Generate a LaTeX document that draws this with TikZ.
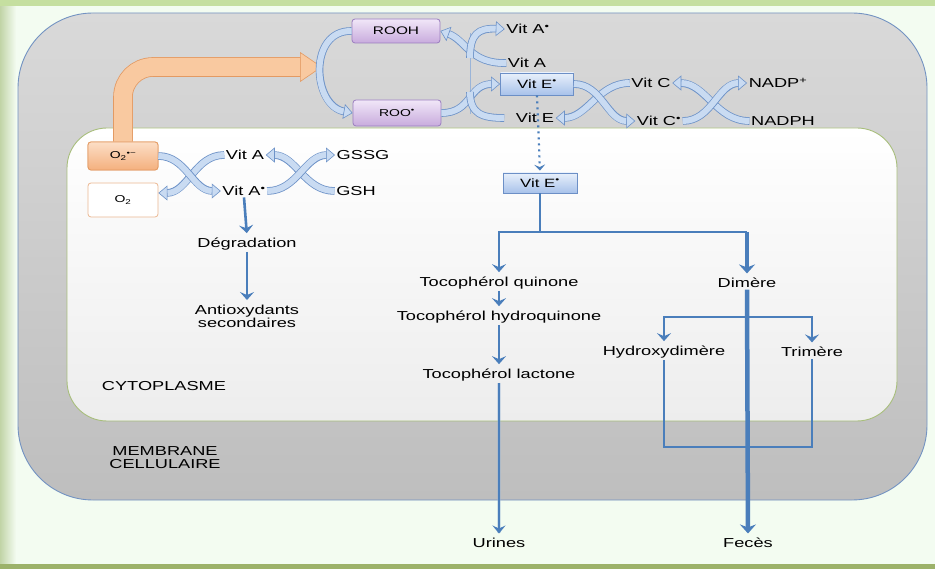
\documentclass[tikz,border=0pt]{standalone}
\usepackage{fontspec}
\setmainfont{Liberation Sans}[FakeStretch=1.4]
\usetikzlibrary{arrows.meta}
\definecolor{mint}{HTML}{F3FCF1}
\definecolor{gband}{HTML}{C5DFA0}
\definecolor{gline}{HTML}{9CB26A}
\definecolor{memtop}{HTML}{D9D9D9}
\definecolor{membot}{HTML}{BEBEBE}
\definecolor{memline}{HTML}{7393C2}
\definecolor{cytbot}{HTML}{EDEDED}
\definecolor{cytline}{HTML}{A8BE7C}
\definecolor{ribF}{HTML}{C9DBF2}
\definecolor{ribL}{HTML}{6E93C8}
\definecolor{connc}{HTML}{4A7EBB}
\definecolor{ptop}{HTML}{F1E7F8}
\definecolor{pbot}{HTML}{C8ABDD}
\definecolor{pline}{HTML}{9A7DBF}
\definecolor{btop}{HTML}{E8F0FB}
\definecolor{bbot}{HTML}{A8C2EA}
\definecolor{bline}{HTML}{6C8FC6}
\definecolor{otop}{HTML}{FCDEC6}
\definecolor{obot}{HTML}{F4B07E}
\definecolor{oline}{HTML}{E39A63}
\definecolor{oarr}{HTML}{F9C9A0}
\newcommand\rad{\textsuperscript{\textbullet}}
\tikzset{
  lbl/.style={font=\fontsize{13}{13}\selectfont, text=black, inner sep=1.5pt},
  pbox/.style={draw=pline, line width=0.8pt, top color=ptop, bottom color=pbot, rounded corners=3pt, inner sep=0pt},
  bbox/.style={draw=bline, line width=0.8pt, top color=btop, bottom color=bbot, inner sep=0pt, font=\fontsize{12}{12}\selectfont},
  obox/.style={draw=oline, line width=0.8pt, top color=otop, bottom color=obot, rounded corners=3pt, inner sep=0pt, font=\fontsize{10}{10}\selectfont},
  wbox/.style={draw=oline!70, line width=0.8pt, fill=white, rounded corners=3pt, inner sep=0pt, font=\fontsize{10}{10}\selectfont},
  rib/.style={line width=6pt, draw=ribF,
    preaction={draw=ribL, line width=7.6pt, arrows=-, shorten >=8pt},
    -{Triangle[length=9pt,width=15pt,line width=0.6pt,fill=ribF,color=ribL]}},
  ribtail/.style={line width=6pt, draw=ribF, preaction={draw=ribL, line width=7.6pt}},
  conn/.style={draw=connc, line width=2.6pt},
  conntip/.style={conn, shorten >=3pt, -{Stealth[length=8pt,width=14pt,inset=3pt]}},
  connbig/.style={draw=connc, line width=4.5pt, shorten >=3pt, -{Stealth[length=9pt,width=16pt,inset=3pt]}},
}
\begin{document}
\begin{tikzpicture}[x=1pt,y=-1pt]
\useasboundingbox (0,0) rectangle (935,569);
% frame
\fill[mint] (0,0) rectangle (935,569);
\shade[left color=gband!90!black!80, right color=mint] (0,0) rectangle (16,569);
\fill[gband] (0,0) rectangle (935,6);
\fill[gline] (0,564) rectangle (935,569);
% membrane
\draw[memline, line width=0.9pt, top color=memtop, bottom color=membot, rounded corners=75pt] (18,13) rectangle (927,500);
% cytoplasm
\draw[cytline, line width=0.9pt, top color=white, bottom color=cytbot, rounded corners=40pt] (67,128) rectangle (897,421);

% orange arrow
\node[obox, minimum width=70pt, minimum height=28pt] (o2r) at (123,156) {O\textsubscript{2}\textsuperscript{\textbullet−}};
\coordinate (oend) at (322,67);
\draw[line width=18pt, draw=oarr, rounded corners=30pt,
  preaction={draw=oline, line width=19.6pt, arrows=-, shorten >=20pt},
  -{Triangle[length=22pt,width=30pt,line width=0.6pt,fill=oarr,color=oline]}]
  (o2r.north) |- (oend);
\node[obox, minimum width=70pt, minimum height=28pt] at (123,156) {O\textsubscript{2}\textsuperscript{\textbullet−}};
\node[wbox, minimum width=70pt, minimum height=34pt] (o2) at (123,200) {O\textsubscript{2}};

% boxes
\node[pbox, minimum width=88pt, minimum height=24pt, font=\fontsize{11}{11}\selectfont] (rooh) at (396,31) {ROOH};
\node[pbox, minimum width=88pt, minimum height=26pt, font=\fontsize{10}{10}\selectfont] (roo) at (397,113) {ROO\rad};
\node[bbox, minimum width=73pt, minimum height=22pt] (e1) at (537,84) {Vit E\rad};
\node[bbox, minimum width=74pt, minimum height=20pt] (e2) at (540,183) {Vit E\rad};

% labels
\node[lbl] (vAr) at (528,29) {Vit A\rad};
\node[lbl] (vA1) at (527,63) {Vit A};
\node[lbl] (vE) at (535,118) {Vit E};
\node[lbl] (vC) at (651,83) {Vit C};
\node[lbl] (vCr) at (659,121) {Vit C\rad};
\node[lbl] (nadpp) at (778,83) {NADP\textsuperscript{+}};
\node[lbl] (nadph) at (783,121) {NADPH};
\node[lbl] (vA2) at (245,155) {Vit A};
\node[lbl] (vA2r) at (244,191) {Vit A\rad};
\node[lbl] (gssg) at (363,155) {GSSG};
\node[lbl] (gsh) at (356,191) {GSH};
\node[lbl] (deg) at (247,244) {Dégradation};
\node[lbl, align=center] (anti) at (247,316) {Antioxydants\\secondaires};
\node[lbl] (tq) at (499,283) {Tocophérol quinone};
\node[lbl] (thq) at (499,317) {Tocophérol hydroquinone};
\node[lbl] (tl) at (499,375) {Tocophérol lactone};
\node[lbl] (dim) at (747,283) {Dimère};
\node[lbl] (hd) at (664,352) {Hydroxydimère};
\node[lbl] (tr) at (812,352) {Trimère};
\node[lbl] (cyto) at (164,386) {CYTOPLASME};
\node[lbl, align=center] (memb) at (165,458) {MEMBRANE\\CELLULAIRE};
\node[lbl] (ur) at (499,543) {Urines};
\node[lbl] (fe) at (748,543) {Fecès};

% ribbon arrows: peroxidation cycle
\coordinate (vt) at (470,33);
\coordinate (vb) at (470,114);
\coordinate (cA) at (470,58);
\coordinate (cE) at (470,92);
\draw[ribL!70, line width=1pt] (vt) -- (vb);
\draw[rib] (rooh.west) .. controls (308,30) and (312,106) .. (roo.west);
\draw[rib] (vA1.west) .. controls (470,64) and (466,40) .. (rooh.east);
\draw[rib] (cA) .. controls (470,34) and (478,28) .. (vAr.west);
\draw[rib] (roo.east) .. controls (472,113) and (468,84) .. (e1.west);
\draw[ribtail] (cE) .. controls (470,114) and (482,118) .. ([xshift=-10pt]vE.west);

% Vit E / Vit C crossing
\draw[rib] (vC.west) to[out=180,in=0] (vE.east);
\draw[rib] (e1.east) to[out=0,in=180] (vCr.west);
% Vit C / NADPH crossing
\draw[rib] (nadph.west) to[out=180,in=0] (vC.east);
\draw[rib] (vCr.east) to[out=0,in=180] (nadpp.west);

% left crossings
\draw[rib] (vA2.west) to[out=180,in=0] ([yshift=7pt]o2.east);
\draw[rib] (o2r.east) to[out=0,in=180] (vA2r.west);
\draw[rib] (gsh.west) to[out=180,in=0] (vA2.east);
\draw[rib] (vA2r.east) to[out=0,in=180] (gssg.west);

% degradation arrows
\draw[conntip] (vA2r.south) -- (deg.north);
\draw[conntip] (deg.south) -- (anti.north);

% Vit E pathway
\draw[draw=connc, line width=2.2pt, dash pattern=on 2pt off 4pt, shorten >=2pt,
  -{Stealth[length=6pt,width=11pt,inset=2.5pt]}] (e1.south) -- (e2.north);
\coordinate (j1) at (540,232);
\draw[conn] (e2.south) -- (j1);
\draw[conntip] (j1) -| (tq.north);
\draw[conn] (j1) -- (747,232);
\draw[connbig] (747,232) -- (dim.north);
\draw[conntip] (tq.south) -- (thq.north);
\draw[conntip] (thq.south) -- (tl.north);
\draw[draw=connc!60, line width=3.5pt, opacity=0.35] (tl.south) -- ([yshift=4pt]ur.north);
\draw[draw=connc, line width=1.8pt, shorten >=3pt, -{Stealth[length=8pt,width=13pt,inset=3pt]}] (tl.south) -- (ur.north);

% dimere branches
\coordinate (j2) at (747,317);
\coordinate (u1) at (747,447);
\draw[conntip] (j2) -| (hd.north);
\draw[conntip] (j2) -| (tr.north);
\draw[conn] (hd.south) |- (u1) -| (tr.south);
\draw[connbig] (dim.south) -- (fe.north);
\end{tikzpicture}
\end{document}
